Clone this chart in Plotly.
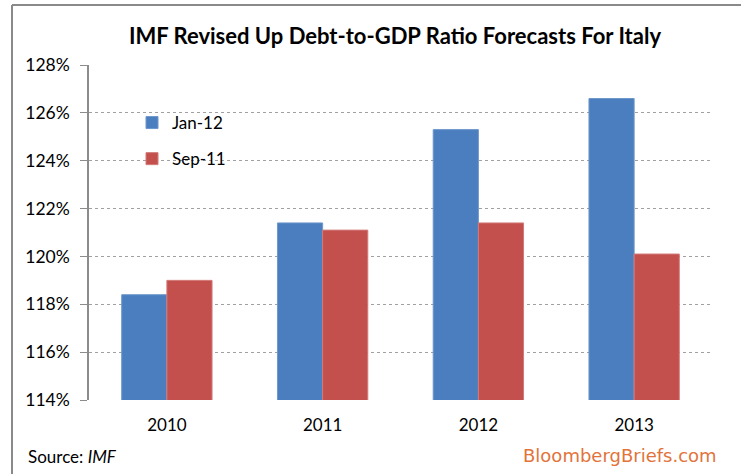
import plotly.graph_objects as go

years = ["2010", "2011", "2012", "2013"]
jan12 = [118.4, 121.4, 125.3, 126.6]
sep11 = [119.0, 121.1, 121.4, 120.1]
y_ticks = [114, 116, 118, 120, 122, 124, 126, 128]
y_tick_labels = [f"{v}%" for v in y_ticks]

W, H = 741, 474
L, R, T, B = 89, 29, 65, 74
PW, PH = W - L - R, H - T - B

def px(x):
    return (x - L) / PW

def py(y):
    return (H - B - y) / PH

FONT = "Lato"

fig = go.Figure()
fig.add_trace(go.Bar(x=years, y=jan12, name="Jan-12", legendgroup="a",
                     marker=dict(color="#4A7EBE", line=dict(color="#6E97CB", width=1)),
                     base=0))
fig.add_trace(go.Bar(x=years, y=sep11, name="Sep-11", legendgroup="b",
                     marker=dict(color="#C3504D", line=dict(color="#D27B79", width=1)),
                     base=0))

fig.update_layout(
    width=W, height=H,
    margin=dict(l=L, r=R, t=T, b=B),
    paper_bgcolor="white", plot_bgcolor="white",
    barmode="group", bargap=0.42, bargroupgap=0,
    font=dict(family=FONT, size=16, color="#000000"),
    title=dict(text="<b>IMF Revised Up Debt-to-GDP Ratio Forecasts For Italy</b>",
               x=395 / W, xanchor="center", y=1 - 36 / H, yanchor="middle",
               font=dict(family=FONT, size=22, color="#000000")),
    showlegend=True,
    legend=dict(x=px(132), y=py(105), xanchor="left", yanchor="top",
                bgcolor="rgba(0,0,0,0)", tracegroupgap=11,
                font=dict(family=FONT, size=17), traceorder="grouped"),
    xaxis=dict(showline=False, showgrid=False, ticks="", tickfont=dict(size=17),
               ticklabelstandoff=13),
    yaxis=dict(range=[114, 128], tickvals=y_ticks, ticktext=y_tick_labels,
               showgrid=True, gridcolor="#a0a0a0", griddash="dot", gridwidth=1,
               showline=True, linecolor="#8c8c8c", linewidth=1.5,
               ticks="outside", ticklen=7, tickcolor="#8c8c8c",
               ticklabelstandoff=7,
               tickfont=dict(size=17.5), zeroline=False),
)

# outer frame (left and top edges)
fig.add_shape(type="line", xref="paper", yref="paper",
              x0=px(12), x1=px(12), y0=py(H), y1=py(5),
              line=dict(color="#8a8a8a", width=2))
fig.add_shape(type="line", xref="paper", yref="paper",
              x0=px(12), x1=px(W), y0=py(5), y1=py(5),
              line=dict(color="#8a8a8a", width=2))

fig.add_annotation(text="Source: <i>IMF</i>", xref="paper", yref="paper",
                   x=px(26), y=py(456), xanchor="left", yanchor="middle",
                   showarrow=False, font=dict(family=FONT, size=17, color="#000000"))
fig.add_annotation(text="BloombergBriefs.com", xref="paper", yref="paper",
                   x=px(719), y=py(455), xanchor="right", yanchor="middle",
                   showarrow=False,
                   font=dict(family="DejaVu Sans", size=18, color="#E2733A"))

fig.write_html("out.html")
